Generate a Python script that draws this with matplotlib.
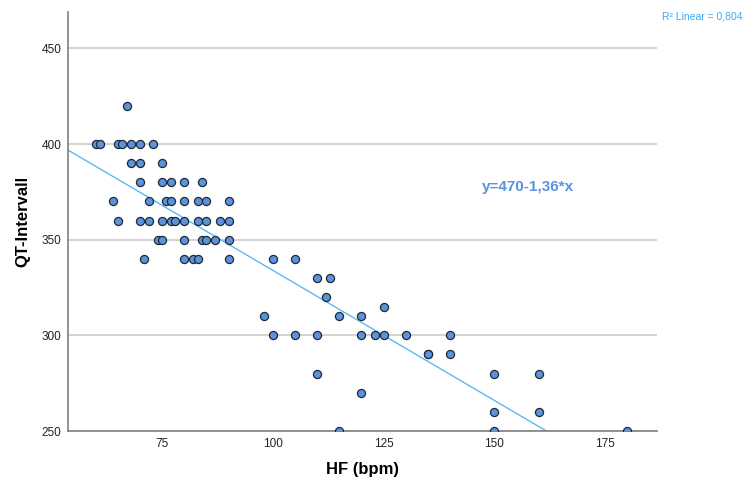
import matplotlib
matplotlib.use('Agg')
import matplotlib.pyplot as plt
import numpy as np

plt.rcParams['font.family'] = ['Liberation Sans', 'DejaVu Sans']

# heart rate (bpm) and QT interval (ms) per patient
hf = [67,
      60, 61, 65, 66, 68, 70, 73,
      68, 70, 75,
      70, 75, 77, 80, 84,
      64, 72, 76, 77, 80, 83, 85, 90,
      65, 70, 72, 75, 77, 78, 80, 83, 85, 88, 90,
      74, 75, 80, 84, 85, 87, 90,
      71, 80, 82, 83, 90,
      100, 105, 110, 113, 112, 98, 115, 120, 125,
      100, 105, 110, 120, 123, 125, 130,
      135, 110, 120, 115,
      140, 135, 140, 150, 160, 150, 160, 150, 180]
qt = [420,
      400, 400, 400, 400, 400, 400, 400,
      390, 390, 390,
      380, 380, 380, 380, 380,
      370, 370, 370, 370, 370, 370, 370, 370,
      360, 360, 360, 360, 360, 360, 360, 360, 360, 360, 360,
      350, 350, 350, 350, 350, 350, 350,
      340, 340, 340, 340, 340,
      340, 340, 330, 330, 320, 310, 310, 310, 315,
      300, 300, 300, 300, 300, 300, 300,
      290, 280, 270, 250,
      300, 290, 290, 280, 280, 260, 260, 250, 250]

# fitted line y = 470 - 1.36 x
b0 = 470
b1 = -1.36

fig = plt.figure(figsize=(7.49, 4.84), dpi=100)
ax = fig.add_axes([0.091, 0.1095, 0.786, 0.8655])

ax.set_xlim(53.8, 186.7)
ax.set_ylim(250, 469)

ax.set_yticks([250, 300, 350, 400, 450])
ax.set_xticks([75, 100, 125, 150, 175])
ax.grid(axis='y', color='#d4d4d4', linewidth=1.4)
ax.set_axisbelow(True)

xl = np.array(ax.get_xlim())
ax.plot(xl, b0 + b1 * xl, color='#4db3f5', linewidth=0.9, zorder=2)

ax.scatter(hf, qt, s=34, facecolor='#5b93dc', edgecolor='#1f2a36',
           linewidth=0.9, zorder=3)

for s in ['top', 'right']:
    ax.spines[s].set_visible(False)
for s in ['left', 'bottom']:
    ax.spines[s].set_color('#808080')
    ax.spines[s].set_linewidth(1.2)
ax.tick_params(length=0, labelsize=8.5, colors='#222222', pad=5)

ax.set_xlabel('HF (bpm)', fontsize=12, fontweight='bold', labelpad=9)
ax.set_ylabel('QT-Intervall', fontsize=12, fontweight='bold', labelpad=8)

ax.text(147.2, 377.5, 'y=470-1,36*x', color='#5b93e0', fontsize=11,
        fontweight='bold', va='center', ha='left')
fig.text(0.884, 0.965, 'R² Linear = 0,804', color='#3fa9f5', fontsize=7.5,
         va='center', ha='left')

fig.savefig('out.png', dpi=100)
